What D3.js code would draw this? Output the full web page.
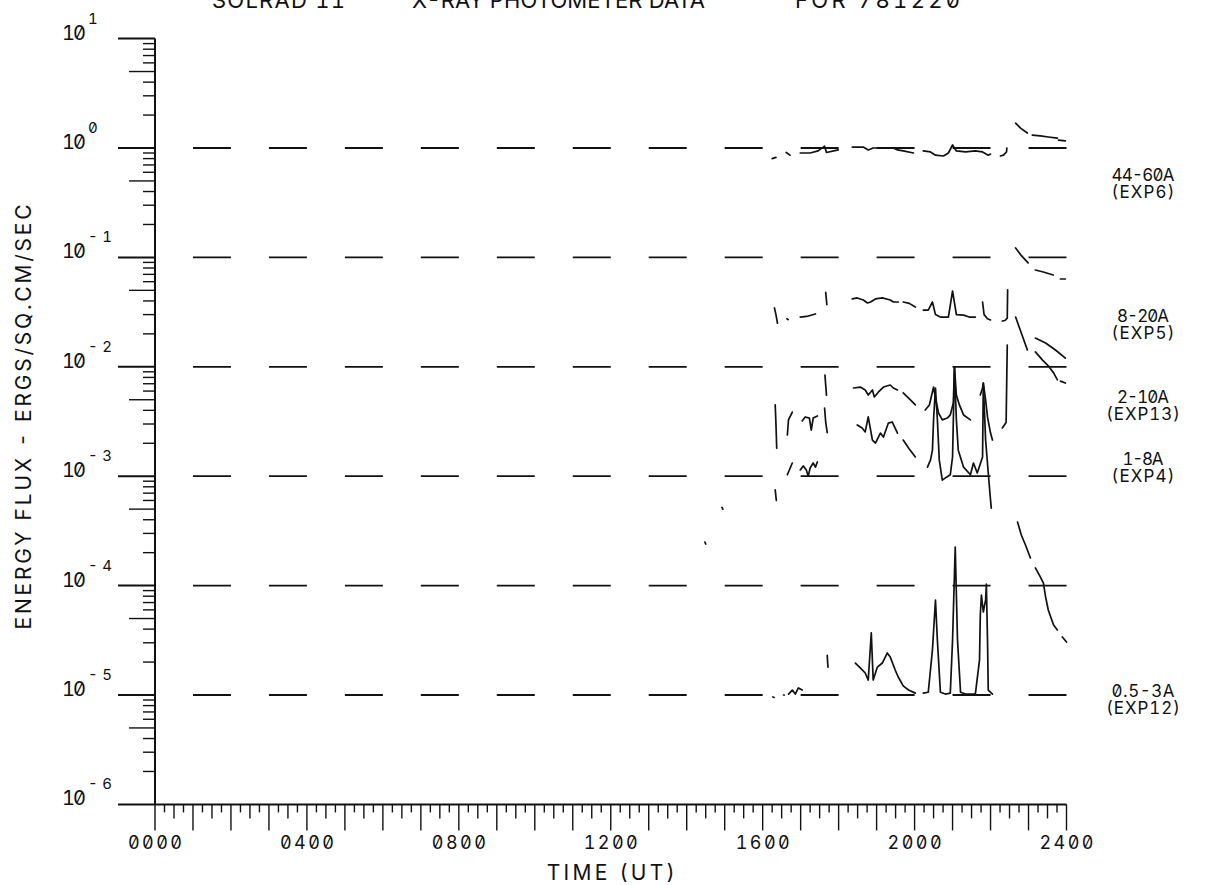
<!DOCTYPE html>
<html>
<head>
<meta charset="utf-8">
<script src="https://cdn.jsdelivr.net/npm/d3@7"></script>
<style>
  html, body { margin: 0; padding: 0; background: #fff; }
  svg { display: block; }
  text {
    font-family: Inter, "DejaVu Sans", sans-serif;
    font-feature-settings: "zero" 1, "tnum" 1;
    fill: #111;
  }
</style>
</head>
<body>
<svg id="chart" width="1218" height="885"></svg>
<script>
// ---- text ----
const titleParts = ["SOLRAD 11", "X-RAY PHOTOMETER DATA", "FOR 781220"];
const xTitle = "TIME (UT)";
const yTitle = "ENERGY FLUX  -  ERGS/SQ.CM/SEC";

// ---- axes ----
const hourTicks = [0, 4, 8, 12, 16, 20, 24];
const hourTickLabels = ["0000", "0400", "0800", "1200", "1600", "2000", "2400"];
const decadeExponents = [1, 0, -1, -2, -3, -4, -5, -6];
const referenceLevels = [1, 1e-1, 1e-2, 1e-3, 1e-4, 1e-5];

// ---- bands ----
const bandNames = ["44-60A", "8-20A", "2-10A", "1-8A", "0.5-3A"];
const bandExperiments = ["(EXP6)", "(EXP5)", "(EXP13)", "(EXP4)", "(EXP12)"];

// each band: list of unbroken runs of [hour UT, flux erg/cm2/s]
const flux4460 = [
  [[16.25, 0.80], [16.35, 0.82]],
  [[16.62, 0.91], [16.72, 0.86]],
  [[16.99, 0.90], [17.25, 0.90], [17.46, 0.94], [17.63, 1.04], [17.68, 0.91], [17.99, 0.96]],
  [[18.36, 1.02], [18.65, 1.02], [18.78, 0.96], [18.91, 1.0], [19.23, 1.0], [19.44, 1.0], [19.55, 0.96], [19.70, 0.94], [19.97, 0.90]],
  [[20.23, 0.94], [20.42, 0.92], [20.55, 0.86], [20.76, 0.845], [20.89, 0.90], [21.00, 1.065], [21.10, 0.94], [21.34, 0.92], [21.60, 0.94], [21.79, 0.92], [21.94, 0.86], [22.00, 0.88]],
  [[22.26, 0.845], [22.34, 0.86], [22.42, 0.92], [22.43, 1.0]],
  [[22.66, 1.69], [22.79, 1.52], [22.97, 1.37]],
  [[23.10, 1.31], [23.31, 1.29], [23.52, 1.26], [23.76, 1.23]],
  [[23.79, 1.18], [23.97, 1.16]]
];

const flux0820 = [
  [[16.31, 0.0345], [16.35, 0.030], [16.39, 0.025]],
  [[16.64, 0.0275], [16.67, 0.027]],
  [[16.99, 0.0285], [17.20, 0.0291], [17.39, 0.0304]],
  [[17.66, 0.048], [17.69, 0.037]],
  [[18.36, 0.0417], [18.49, 0.0426], [18.65, 0.0408], [18.76, 0.0383], [18.84, 0.0391], [18.97, 0.0417], [19.15, 0.0426], [19.36, 0.0408], [19.44, 0.0391], [19.57, 0.0391]],
  [[19.70, 0.0391], [19.86, 0.038], [20.02, 0.0352]],
  [[20.23, 0.033], [20.36, 0.033], [20.47, 0.0391], [20.55, 0.030], [20.68, 0.0285], [20.89, 0.0285], [21.00, 0.0493], [21.10, 0.030], [21.29, 0.0297], [21.44, 0.0285], [21.60, 0.0285]],
  [[21.79, 0.0391], [21.83, 0.030], [21.92, 0.0275], [22.00, 0.0268]],
  [[22.31, 0.0262], [22.38, 0.0265], [22.44, 0.0279], [22.45, 0.0504]],
  [[22.66, 0.122], [22.80, 0.105], [22.99, 0.089]],
  [[23.18, 0.0767], [23.39, 0.0736], [23.65, 0.069]],
  [[23.84, 0.0635], [23.97, 0.0635]]
];

const flux0210 = [
  [[17.64, 0.0084], [17.68, 0.0055]],
  [[18.39, 0.0064], [18.57, 0.00653], [18.70, 0.00614], [18.78, 0.00552], [18.89, 0.00614], [18.94, 0.0053], [19.05, 0.00589], [19.18, 0.00653], [19.36, 0.00682], [19.44, 0.0064], [19.55, 0.00614]],
  [[19.70, 0.00577], [19.89, 0.00498], [20.02, 0.00448]],
  [[20.28, 0.00403], [20.39, 0.00448], [20.50, 0.00653], [20.55, 0.00519], [20.63, 0.00378], [20.73, 0.00327], [20.86, 0.0034], [20.94, 0.00363], [21.02, 0.00467], [21.05, 0.00995], [21.10, 0.00552], [21.18, 0.00448], [21.29, 0.00363], [21.47, 0.00327]],
  [[21.73, 0.00552], [21.79, 0.0064], [21.81, 0.00711], [21.87, 0.00498], [21.92, 0.00348], [22.00, 0.00248], [22.05, 0.00214]],
  [[22.31, 0.00276], [22.41, 0.0031], [22.44, 0.0158]],
  [[22.66, 0.0285], [22.81, 0.0204], [22.97, 0.01425]],
  [[23.18, 0.0183], [23.45, 0.0165], [23.71, 0.01425], [23.97, 0.012]]
];

const flux0108 = [
  [[14.48, 2.5e-4], [14.50, 2.4e-4]],
  [[14.93, 5.2e-4], [14.95, 5.0e-4]],
  [[16.33, 0.0045], [16.35, 0.0030], [16.37, 0.0018]],
  [[16.33, 7.5e-4], [16.36, 6.0e-4]],
  [[16.65, 0.00238], [16.68, 0.00327], [16.78, 0.00386]],
  [[16.65, 1.03e-3], [16.78, 1.32e-3]],
  [[17.04, 0.0032], [17.12, 0.00348], [17.23, 0.0034], [17.28, 0.00264], [17.33, 0.0034], [17.44, 0.00355]],
  [[16.99, 1.14e-3], [17.07, 1.24e-3], [17.15, 1.14e-3], [17.20, 1.0e-3], [17.25, 1.19e-3], [17.33, 1.32e-3], [17.39, 1.21e-3], [17.44, 1.35e-3]],
  [[17.63, 0.0042], [17.66, 0.0031], [17.70, 0.0025]],
  [[18.49, 0.00294], [18.62, 0.00276], [18.70, 0.00254], [18.78, 0.00348], [18.89, 0.00214], [18.97, 0.00201], [19.10, 0.00248], [19.18, 0.00228], [19.31, 0.00306], [19.41, 0.00313], [19.55, 0.00248]],
  [[19.70, 0.00214], [19.86, 0.00177], [20.02, 0.0015]],
  [[20.34, 1.21e-3], [20.42, 1.41e-3], [20.47, 1.73e-3], [20.50, 3.3e-3], [20.55, 6.4e-3], [20.60, 3.3e-3], [20.65, 1.41e-3], [20.73, 9.2e-4], [20.84, 9.8e-4], [20.94, 1.03e-3], [21.00, 1.5e-3], [21.05, 9.95e-3], [21.10, 3.3e-3], [21.15, 1.73e-3], [21.29, 1.21e-3], [21.47, 1.03e-3], [21.55, 1.32e-3], [21.65, 1.07e-3], [21.79, 1.5e-3], [21.81, 7.1e-3], [21.87, 2.14e-3], [21.94, 1.07e-3], [22.00, 6.05e-4], [22.02, 5.1e-4]],
  [[23.18, 0.0137], [23.37, 0.0115], [23.52, 0.0102], [23.66, 0.0088], [23.76, 0.0076]],
  [[23.84, 0.0074], [23.97, 0.0071]]
];

const flux0053 = [
  [[16.27, 9.6e-6], [16.30, 9.5e-6]],
  [[16.55, 1.0e-5], [16.57, 1.0e-5]],
  [[16.68, 1.02e-5], [16.78, 1.11e-5], [16.86, 1.02e-5], [16.94, 1.16e-5], [17.04, 1.11e-5]],
  [[17.70, 2.3e-5], [17.71, 2.0e-5], [17.72, 1.8e-5]],
  [[18.44, 1.96e-5], [18.57, 1.77e-5], [18.70, 1.59e-5], [18.78, 1.37e-5], [18.86, 3.69e-5], [18.91, 1.37e-5], [19.02, 1.80e-5], [19.15, 1.96e-5], [19.28, 2.42e-5], [19.36, 2.22e-5], [19.49, 1.69e-5], [19.57, 1.46e-5], [19.70, 1.21e-5], [19.84, 1.11e-5], [20.02, 1.04e-5]],
  [[20.23, 1.04e-5], [20.36, 1.06e-5], [20.47, 2.58e-5], [20.55, 7.38e-5], [20.60, 3.18e-5], [20.68, 1.06e-5], [20.81, 1.02e-5], [20.94, 1.04e-5], [21.00, 3.18e-5], [21.07, 2.25e-4], [21.13, 3.18e-5], [21.21, 1.06e-5], [21.34, 1.02e-5], [21.52, 1.02e-5], [21.60, 1.02e-5], [21.71, 2.09e-5], [21.73, 5.38e-5], [21.76, 8.2e-5], [21.81, 5.74e-5], [21.87, 7.4e-5], [21.89, 1.03e-4], [21.92, 3.2e-5], [21.94, 1.11e-5], [22.05, 1.02e-5]],
  [[22.71, 3.81e-4], [22.81, 2.9e-4], [22.92, 2.35e-4], [23.05, 1.79e-4]],
  [[23.18, 1.45e-4], [23.31, 1.2e-4], [23.39, 1.06e-4], [23.45, 7.87e-5], [23.52, 5.98e-5], [23.66, 4.37e-5], [23.76, 3.93e-5]],
  [[23.89, 3.39e-5], [24.0, 3.05e-5]]
];

const bandSeries = [flux4460, flux0820, flux0210, flux0108, flux0053];

// ---- layout ----
const layout = {
  left: 155, right: 1066.5, top: 38.6, bottom: 804.4,
  labelX: 1143,
  labelBaselines: [181, 322, 403, 465, 697],
  labelLineGap: 17,
  labelCharPitch: 10.8
};

const svg = d3.select("#chart");

const x = d3.scaleLinear().domain([0, 24]).range([layout.left, layout.right]);
const y = d3.scaleLog().domain([1e-6, 10]).range([layout.bottom, layout.top]);

const ink = "#111";

// dashed reference levels: one-hour dashes on odd hours
const dashHours = d3.range(1, 24, 2);
const refG = svg.append("g");
referenceLevels.forEach(level => {
  refG.selectAll(null).data(dashHours).join("line")
    .attr("x1", h => x(h)).attr("x2", h => x(h + 1))
    .attr("y1", y(level)).attr("y2", y(level))
    .attr("stroke", ink).attr("stroke-width", 1.8);
});

// axis lines
svg.append("line")
  .attr("x1", layout.left).attr("x2", layout.left)
  .attr("y1", y(10)).attr("y2", y(1e-6))
  .attr("stroke", ink).attr("stroke-width", 2);
svg.append("line")
  .attr("x1", x(0)).attr("x2", x(24))
  .attr("y1", y(1e-6)).attr("y2", y(1e-6))
  .attr("stroke", ink).attr("stroke-width", 2);

// y ticks: decades and minor 2..9
const yTickG = svg.append("g");
decadeExponents.forEach(e => {
  const v = Math.pow(10, e);
  yTickG.append("line")
    .attr("x1", layout.left - 37).attr("x2", layout.left)
    .attr("y1", y(v)).attr("y2", y(v))
    .attr("stroke", ink).attr("stroke-width", 2);
});
decadeExponents.slice(1).forEach(e => {
  const base = Math.pow(10, e);
  d3.range(2, 10).forEach(m => {
    const len = m === 5 ? 26 : 12;
    yTickG.append("line")
      .attr("x1", layout.left - len).attr("x2", layout.left)
      .attr("y1", y(m * base)).attr("y2", y(m * base))
      .attr("stroke", ink).attr("stroke-width", 1.4);
  });
});

// y tick labels: "10" with raised exponent
const yLabG = svg.append("g");
decadeExponents.forEach(e => {
  const ty = y(Math.pow(10, e));
  yLabG.append("text")
    .attr("x", 62).attr("y", ty + 1)
    .attr("font-size", 20)
    .attr("textLength", 24).attr("lengthAdjust", "spacing")
    .text("10");
  const ex = yLabG.append("text")
    .attr("x", 88).attr("y", ty - 15)
    .attr("font-size", 15)
    .text(String(e));
  if (e < 0) ex.attr("textLength", 24).attr("lengthAdjust", "spacing");
});

// x ticks every quarter hour
const xTickG = svg.append("g");
d3.range(0, 24.001, 0.25).forEach(h => {
  const whole = Math.abs(h - Math.round(h)) < 1e-6;
  const half = Math.abs(h * 2 - Math.round(h * 2)) < 1e-6;
  const len = whole ? 26 : (half ? 14 : 8);
  xTickG.append("line")
    .attr("x1", x(h)).attr("x2", x(h))
    .attr("y1", y(1e-6)).attr("y2", y(1e-6) + len)
    .attr("stroke", ink).attr("stroke-width", 1.4);
});

// x tick labels
svg.append("g").selectAll("text").data(hourTicks).join("text")
  .attr("x", h => x(h)).attr("y", 849)
  .attr("text-anchor", "middle")
  .attr("font-size", 18)
  .attr("textLength", 54).attr("lengthAdjust", "spacing")
  .text((h, i) => hourTickLabels[i]);

// axis titles
svg.append("text")
  .attr("x", x(12)).attr("y", 880)
  .attr("text-anchor", "middle")
  .attr("font-size", 21)
  .attr("textLength", 128).attr("lengthAdjust", "spacing")
  .text(xTitle);

svg.append("text")
  .attr("transform", "translate(31,417) rotate(-90)")
  .attr("text-anchor", "middle")
  .attr("font-size", 21)
  .attr("textLength", 425).attr("lengthAdjust", "spacing")
  .text(yTitle);

// title, running off the top edge
const titleX = [212, 412, 795];
const titleW = [133, 293, 165];
titleParts.forEach((t, i) => {
  svg.append("text")
    .attr("x", titleX[i]).attr("y", 8)
    .attr("font-size", 22)
    .attr("textLength", titleW[i]).attr("lengthAdjust", "spacing")
    .text(t);
});

// band data traces
const line = d3.line().x(d => x(d[0])).y(d => y(d[1]));
const traceG = svg.append("g");
bandSeries.forEach(series => {
  traceG.selectAll(null).data(series).join("path")
    .attr("d", line)
    .attr("fill", "none")
    .attr("stroke", ink)
    .attr("stroke-width", 1.7)
    .attr("stroke-linejoin", "round")
    .attr("stroke-linecap", "round");
});

// band labels at right
bandNames.forEach((name, i) => {
  const by = layout.labelBaselines[i];
  [name, bandExperiments[i]].forEach((t, k) => {
    svg.append("text")
      .attr("x", layout.labelX).attr("y", by + k * layout.labelLineGap)
      .attr("text-anchor", "middle")
      .attr("font-size", 17)
      .attr("textLength", t.length * layout.labelCharPitch - 2).attr("lengthAdjust", "spacing")
      .text(t);
  });
});
</script>
</body>
</html>
